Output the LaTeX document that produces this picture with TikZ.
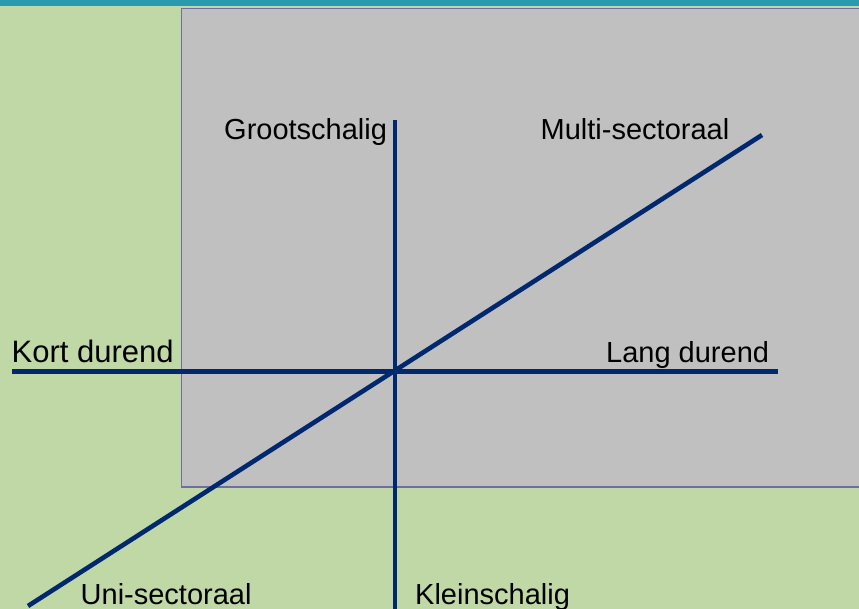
\documentclass[tikz,border=0pt]{standalone}
\usepackage{fontspec}
\setmainfont{Liberation Sans}
\definecolor{teal1}{RGB}{42,155,174}
\definecolor{bggreen}{RGB}{192,215,166}
\definecolor{boxgrey}{RGB}{192,192,192}
\definecolor{boxedge}{RGB}{110,110,160}
\definecolor{navy1}{RGB}{0,40,110}
\tikzset{
  axis/.style={draw=navy1, line width=4.6pt},
  lbl/.style={anchor=base west, inner sep=0pt, font=\fontsize{29}{33}\selectfont, text=black},
  lblbig/.style={lbl, font=\fontsize{31}{35}\selectfont}
}
\begin{document}
\begin{tikzpicture}[x=1pt,y=-1pt]
\useasboundingbox (0,0) rectangle (859,609);
\fill[bggreen] (0,0) rectangle (859,609);
\fill[teal1] (0,0) rectangle (859,6.5);
\draw[fill=boxgrey, draw=boxedge, line width=1.5pt] (181.5,8.5) rectangle (870,487);
% endpoints
\coordinate (hL) at (12,371.5);
\coordinate (hR) at (777.5,371.5);
\coordinate (vT) at (395,120);
\coordinate (vB) at (395,612);
\coordinate (dL) at (28,606);
\coordinate (dR) at (762,135);
\draw[axis] (hL) -- (hR);
\draw[axis] (vT) -- (vB);
\draw[axis] (dL) -- (dR);
% labels
\node[lbl] (groot) at (224,139.5) {Grootschalig};
\node[lbl] (multi) at (540.5,140) {Multi-sectoraal};
\node[lblbig] (kort) at (11.5,362.5) {Kort durend};
\node[lbl] (lang) at (606,362.5) {Lang durend};
\node[lbl] (uni) at (80.5,604) {Uni-sectoraal};
\node[lbl] (klein) at (415,604) {Kleinschalig};
\end{tikzpicture}
\end{document}
